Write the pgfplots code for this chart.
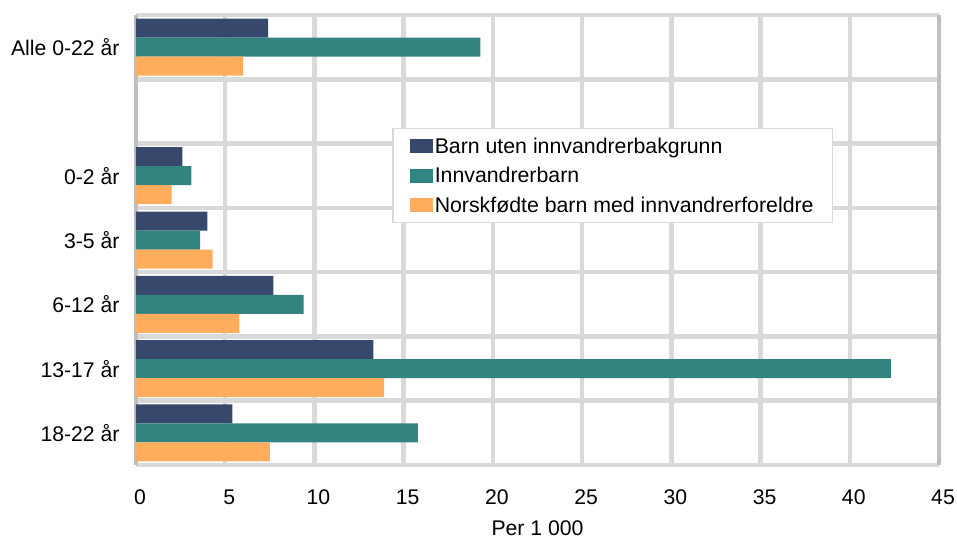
\documentclass[border=0pt]{standalone}
\usepackage{pgfplots}
\pgfplotsset{compat=1.18}
\usepackage{fontspec}
\setmainfont{Liberation Sans}
\definecolor{cdark}{HTML}{36486B}
\definecolor{cteal}{HTML}{338481}
\definecolor{corange}{HTML}{FFAD5C}
\definecolor{cgrid}{HTML}{D9D9D9}
\definecolor{caxis}{HTML}{BFBFBF}
\begin{document}
\begin{tikzpicture}
\begin{axis}[
  at={(0,0)}, anchor=south west,
  scale only axis, width=803pt, height=450pt,
  xbar, bar width=19pt,
  xmin=0, xmax=45, ymin=-0.5, ymax=6.5,
  xtick={0,5,...,45},
  ytick={0,1,2,3,4,6},
  yticklabels={18-22 år,13-17 år,6-12 år,3-5 år,0-2 år,Alle 0-22 år},
  minor ytick={0.5,1.5,2.5,3.5,4.5,5.5},
  xmajorgrids, yminorgrids,
  major grid style={draw=cgrid, line width=4.5pt},
  minor grid style={draw=cgrid, line width=4.5pt},
  axis line style={draw=cgrid, line width=4.5pt},
  separate axis lines,
  y axis line style={draw=caxis, line width=4.5pt},
  major tick length=0pt, minor tick length=0pt,
  tick style={draw=none},
  /pgf/number format/assume math mode=true,
  ticklabel style={font=\fontsize{21.2}{25}\selectfont},
  xticklabel style={yshift=-21pt, xshift=4pt},
  yticklabel style={xshift=-13pt},
  xlabel={Per 1 000},
  xlabel style={font=\fontsize{21.2}{25}\selectfont, yshift=-9pt},
  legend style={at={(256pt,337pt)}, anchor=north west, draw=cgrid, line width=1.5pt,
    fill=white, font=\fontsize{21.3}{25}\selectfont, row sep=8.5pt,
    inner xsep=17pt, inner ysep=7pt},
  legend cell align=left,
  legend image code/.code={\path (0pt,-7pt) rectangle (23pt,7pt);\fill[#1,draw=none] (6pt,-7pt) rectangle (20pt,7pt);},
  axis on top=false,
]
\addplot[draw=none, fill=cdark, bar shift=19pt] coordinates {
  (5.4,0) (13.3,1) (7.7,2) (4.0,3) (2.6,4) (7.4,6)};
\addplot[draw=none, fill=cteal, bar shift=0pt] coordinates {
  (15.8,0) (42.3,1) (9.4,2) (3.6,3) (3.1,4) (19.3,6)};
\addplot[draw=none, fill=corange, bar shift=-19pt] coordinates {
  (7.5,0) (13.9,1) (5.8,2) (4.3,3) (2.0,4) (6.0,6)};
\legend{Barn uten innvandrerbakgrunn, Innvandrerbarn, Norskfødte barn med innvandrerforeldre}
\end{axis}
\pgfresetboundingbox
\path (-136pt,-76pt) rectangle (821pt,465pt);
\end{tikzpicture}
\end{document}
